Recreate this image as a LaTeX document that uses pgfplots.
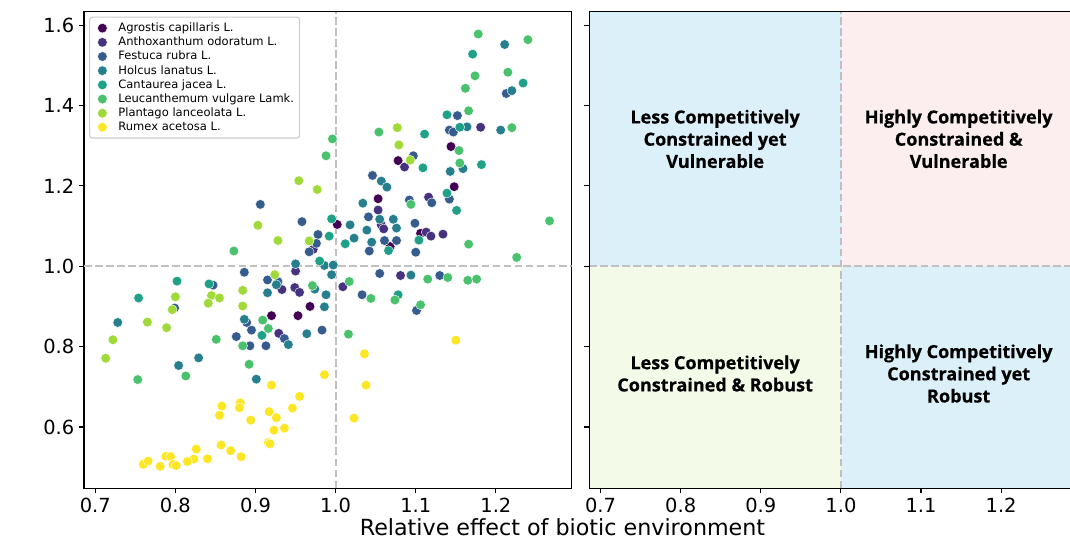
\documentclass[border=0pt]{standalone}
\usepackage{fontspec}
\setmainfont{DejaVu Sans}
\newfontfamily\quadfont{Open Sans}[BoldFeatures={FakeBold=0.5}]
\usepackage{pgfplots}
\pgfplotsset{compat=1.18}

\definecolor{agro}{RGB}{68,1,84}
\definecolor{antho}{RGB}{70,50,126}
\definecolor{fest}{RGB}{54,92,141}
\definecolor{holc}{RGB}{39,127,142}
\definecolor{cant}{RGB}{31,161,135}
\definecolor{leuc}{RGB}{74,193,109}
\definecolor{plan}{RGB}{160,218,57}
\definecolor{rume}{RGB}{253,231,37}
\definecolor{qblue}{RGB}{220,240,250}
\definecolor{qpink}{RGB}{252,238,238}
\definecolor{qgreen}{RGB}{243,251,232}
\definecolor{refline}{RGB}{192,192,192}
\definecolor{legframe}{RGB}{204,204,204}

\pgfplotsset{
  panel/.style={
    scale only axis, width=351.1pt, height=343.2pt,
    xmin=0.6859, xmax=1.2946, ymin=0.4473, ymax=1.6338,
    xtick={0.7,0.8,0.9,1.0,1.1,1.2},
    ytick={0.6,0.8,1.0,1.2,1.4,1.6},
    tick align=outside, tick pos=left,
    major tick length=3.5pt,
    every tick/.style={black, line width=0.8pt},
    axis line style={line width=0.8pt},
    ticklabel style={font=\fontsize{14}{16}\selectfont},
    /pgf/number format/assume math mode=true,
    /pgf/number format/fixed,
    /pgf/number format/fixed zerofill,
    /pgf/number format/precision=1,
  },
  dot/.style={only marks, mark=*, mark size=3.5pt,
    mark options={draw=white, line width=0.3pt, fill=#1}},
  refl/.style={refline, line width=1.5pt, dash pattern=on 5.55pt off 2.4pt, forget plot},
}

\begin{document}
\begin{tikzpicture}

% left panel: scatter
\begin{axis}[panel,
  at={(0,0)}, anchor=south west,
  legend style={at={(0.0103,0.9895)}, anchor=north west,
    font=\fontsize{8.3}{9}\selectfont, draw=legframe, line width=0.8pt,
    rounded corners=2pt, fill=white, row sep=-1.6pt,
    inner xsep=2pt, inner ysep=2pt},
  legend cell align=left,
  legend image code/.code={\path (0,0) (0.56cm,0); \draw[#1] plot coordinates {(0.24cm,0cm)};},
]
\addplot[refl] coordinates {(1,0.4473) (1,1.6338)};
\addplot[refl] coordinates {(0.6859,1) (1.2946,1)};

\addplot[dot=agro] coordinates {
(1.002,1.104) (0.968,0.900) (0.920,0.877) (0.953,0.877) (1.144,1.298)
(1.078,1.263) (1.148,1.198) (1.053,1.168) (1.106,1.082) (1.068,1.049)
};
\addlegendentry{Agrostis capillaris L.}

\addplot[dot=antho] coordinates {
(0.972,1.042) (0.950,0.988) (0.933,0.942) (0.949,0.947) (0.955,0.935)
(0.929,0.833) (1.181,1.346) (1.086,1.247) (1.053,1.140) (1.116,1.172)
(1.057,1.103) (1.060,1.093) (1.113,1.085) (1.119,1.075) (1.134,1.080)
(1.009,0.949) (1.081,0.977)
};
\addlegendentry{Anthoxanthum odoratum L.}

\addplot[dot=fest] coordinates {
(0.906,1.154) (0.958,1.111) (0.978,1.079) (0.976,1.057) (0.967,1.036)
(0.886,0.985) (0.915,0.966) (0.928,0.962) (0.847,0.953) (0.799,0.896)
(0.889,0.860) (0.895,0.841) (0.936,0.820) (0.983,0.841) (0.876,0.825)
(0.893,0.802) (0.913,0.802) (1.213,1.430) (1.152,1.375) (1.142,1.339)
(1.147,1.334) (1.097,1.275) (1.142,1.167) (1.046,1.226) (1.092,1.165)
(1.120,1.158) (1.041,1.123) (1.099,1.107) (1.061,1.064) (1.076,1.064)
(1.042,1.038) (1.100,1.035) (1.055,0.982) (1.130,0.977) (1.033,0.929)
(1.101,0.890)
};
\addlegendentry{Festuca rubra L.}

\addplot[dot=holc] coordinates {
(0.986,1.002) (0.997,1.003) (0.950,1.006) (0.995,0.979) (0.926,0.954)
(0.974,0.943) (0.988,0.929) (0.915,0.934) (0.986,0.899) (0.728,0.860)
(0.886,0.868) (0.941,0.805) (0.964,0.832) (0.804,0.753) (0.829,0.772)
(0.901,0.719) (1.211,1.552) (1.220,1.437) (1.164,1.347) (1.206,1.339)
(1.143,1.236) (1.159,1.243) (1.057,1.212) (1.064,1.197) (1.034,1.157)
(1.055,1.117) (1.072,1.117) (1.018,1.103) (1.039,1.090) (1.076,1.095)
(1.023,1.070) (1.045,1.060) (1.094,0.978)
};
\addlegendentry{Holcus lanatus L.}

\addplot[dot=cant] coordinates {
(0.995,1.118) (0.992,1.075) (0.980,1.013) (0.802,0.963) (0.842,0.956)
(0.754,0.921) (0.908,0.828) (1.171,1.528) (1.234,1.456) (1.139,1.377)
(1.111,1.329) (1.155,1.346) (1.109,1.245) (1.182,1.253) (1.139,1.182)
(1.151,1.139) (1.012,1.056) (1.104,1.065) (1.066,1.039) (1.078,0.929)
};
\addlegendentry{Cantaurea jacea L.}

\addplot[dot=leuc] coordinates {
(0.988,1.275) (0.996,1.317) (0.873,1.038) (0.971,0.952) (0.909,0.866)
(0.916,0.845) (0.851,0.818) (0.884,0.802) (0.753,0.718) (0.813,0.727)
(0.892,0.756) (1.016,0.831) (1.178,1.578) (1.240,1.564) (1.174,1.474)
(1.215,1.483) (1.162,1.443) (1.166,1.387) (1.054,1.334) (1.220,1.345)
(1.154,1.288) (1.155,1.257) (1.094,1.154) (1.267,1.113) (1.166,1.055)
(1.226,1.022) (1.017,0.962) (1.115,0.968) (1.140,0.972) (1.165,0.965)
(1.176,0.968) (1.044,0.920) (1.074,0.916) (1.106,0.904)
};
\addlegendentry{Leucanthemum vulgare Lamk.}

\addplot[dot=plan] coordinates {
(0.954,1.213) (0.977,1.191) (0.903,1.102) (0.928,1.064) (0.967,1.063)
(0.924,0.979) (0.800,0.924) (0.845,0.927) (0.855,0.921) (0.841,0.908)
(0.884,0.940) (0.884,0.901) (0.796,0.892) (0.765,0.861) (0.789,0.847)
(0.722,0.817) (0.713,0.771) (1.077,1.345) (1.079,1.302) (1.093,1.264)
};
\addlegendentry{Plantago lanceolata L.}

\addplot[dot=rume] coordinates {
(1.036,0.782) (0.986,0.730) (1.038,0.704) (0.920,0.704) (0.955,0.676)
(0.946,0.647) (0.858,0.652) (0.855,0.629) (0.881,0.660) (0.880,0.648)
(0.894,0.617) (0.917,0.638) (0.926,0.623) (0.923,0.592) (0.936,0.597)
(0.916,0.561) (0.918,0.558) (1.023,0.622) (0.826,0.545) (0.857,0.555)
(0.869,0.541) (0.882,0.526) (0.840,0.521) (0.823,0.520) (0.815,0.514)
(0.788,0.527) (0.794,0.526) (0.797,0.507) (0.801,0.504) (0.781,0.502)
(0.760,0.507) (0.766,0.515) (1.150,0.816)
};
\addlegendentry{Rumex acetosa L.}

\node[rotate=90, font=\fontsize{16}{19}\selectfont] at (rel axis cs:-0.121,0.479)
  {Relative vulnerability of species};
\end{axis}

% right panel: quadrants
\begin{axis}[panel,
  at={(363.8pt,0)}, anchor=south west,
  yticklabels={},
  axis on top,
]
\addplot[draw=none, fill=qblue, forget plot] coordinates {(0.6859,1) (1,1) (1,1.6338) (0.6859,1.6338)} -- cycle;
\addplot[draw=none, fill=qpink, forget plot] coordinates {(1,1) (1.2946,1) (1.2946,1.6338) (1,1.6338)} -- cycle;
\addplot[draw=none, fill=qgreen, forget plot] coordinates {(0.6859,0.4473) (1,0.4473) (1,1) (0.6859,1)} -- cycle;
\addplot[draw=none, fill=qblue, forget plot] coordinates {(1,0.4473) (1.2946,0.4473) (1.2946,1) (1,1)} -- cycle;
\addplot[refl] coordinates {(1,0.4473) (1,1.6338)};
\addplot[refl] coordinates {(0.6859,1) (1.2946,1)};

\node[font=\quadfont\bfseries\fontsize{13}{16}\selectfont, align=center]
  at (axis cs:0.843,1.317) {Less Competitively\\Constrained yet\\Vulnerable};
\node[font=\quadfont\bfseries\fontsize{13}{16}\selectfont, align=center]
  at (axis cs:1.147,1.317) {Highly Competitively\\Constrained \&\\Vulnerable};
\node[font=\quadfont\bfseries\fontsize{13}{16}\selectfont, align=center]
  at (axis cs:0.843,0.733) {Less Competitively\\Constrained \& Robust};
\node[font=\quadfont\bfseries\fontsize{13}{16}\selectfont, align=center]
  at (axis cs:1.147,0.733) {Highly Competitively\\Constrained yet\\Robust};
\end{axis}

\node[anchor=base, font=\fontsize{16}{19}\selectfont] at (344.5pt,-34.3pt)
  {Relative effect of biotic environment};

\pgfresetboundingbox
\useasboundingbox (-60.48pt,-38.66pt) rectangle (709.92pt,351.58pt);
\end{tikzpicture}
\end{document}
